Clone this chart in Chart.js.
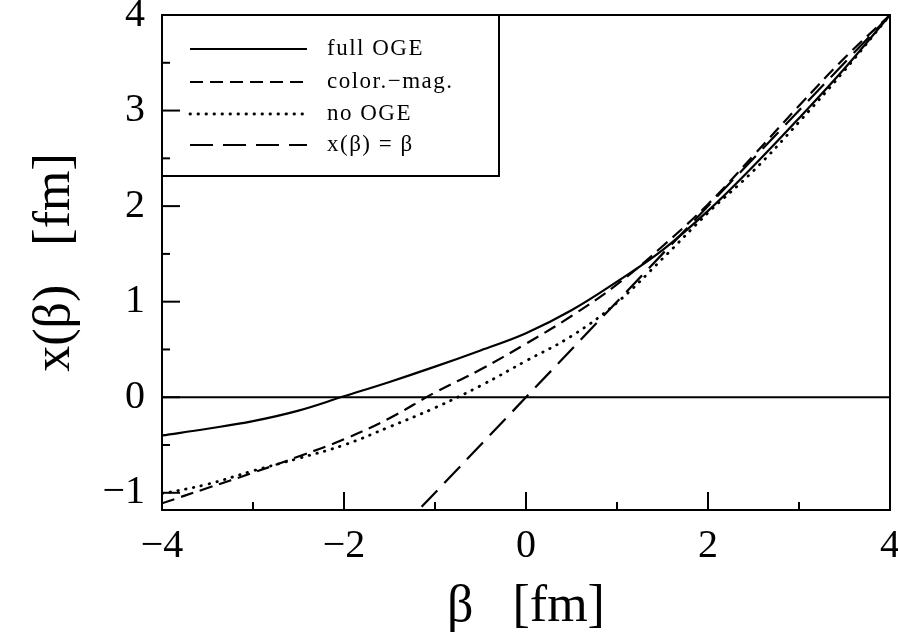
<!DOCTYPE html>
<html>
<head>
<meta charset="utf-8">
<script src="https://cdn.jsdelivr.net/npm/chart.js@4.4.1/dist/chart.umd.min.js"></script>
<style>
  html, body { margin: 0; padding: 0; background: #fff; }
  #wrap { width: 898px; height: 635px; position: relative; }
</style>
</head>
<body>
<div id="wrap"><canvas id="chart"></canvas></div>
<script>
/* x(beta) vs beta for three models plus the identity line. */
const beta = [-4, -3.5, -3, -2.5, -2, -1.5, -1, -0.5, 0, 0.5, 1, 1.5, 2, 2.5, 3, 3.5, 4];
const fullOGE = [-0.40, -0.33, -0.25, -0.14, 0.01, 0.16, 0.32, 0.49, 0.67, 0.91, 1.21, 1.54, 1.95, 2.42, 2.92, 3.44, 4.0];
const colorMag = [-1.11, -0.95, -0.79, -0.62, -0.44, -0.22, 0.05, 0.29, 0.56, 0.85, 1.18, 1.58, 2.02, 2.53, 3.05, 3.55, 4.0];
const noOGE = [-1.01, -0.91, -0.77, -0.64, -0.50, -0.31, -0.11, 0.12, 0.38, 0.64, 0.99, 1.45, 1.93, 2.37, 2.88, 3.42, 4.0];
const identX = [-1.4, 4];
const identY = [-1.4, 4];
const zeroX = [-4, 4];
const zeroY = [0, 0];

const xTicks = [-4, -2, 0, 2, 4];
const xMinor = [-3, -1, 1, 3];
const yTicks = [-1, 0, 1, 2, 3, 4];
const yMinor = [-0.5, 0.5, 1.5, 2.5, 3.5];

const pts = (xs, ys) => xs.map((x, i) => ({ x, y: ys[i] }));
const fmt = (v) => (v < 0 ? "\u2212" + Math.abs(v) : String(v));
const serif = "'Liberation Serif', 'DejaVu Serif', serif";

function line(label, data, dash, opts = {}) {
  return {
    label, data, inLegend: true,
    borderColor: "#000", borderWidth: 2.2, borderDash: dash, borderCapStyle: "butt",
    pointRadius: 0, fill: false, tension: 0.4,
    ...opts,
  };
}

// legend box in the upper left corner, ticks pointing inwards, frame
const decor = {
  id: "decor",
  afterDatasetsDraw(chart) {
    const { ctx, chartArea: a, scales } = chart;
    ctx.save();
    // legend
    const box = { l: a.left, t: a.top, r: 499, b: 176 };
    ctx.fillStyle = "#fff";
    ctx.fillRect(box.l, box.t, box.r - box.l, box.b - box.t);
    ctx.strokeStyle = "#000";
    ctx.lineWidth = 2;
    ctx.strokeRect(box.l, box.t, box.r - box.l, box.b - box.t);
    const rows = [49, 82, 114, 145];
    chart.data.datasets.filter((d) => d.inLegend).forEach((d, i) => {
      const y = rows[i];
      ctx.lineWidth = d.borderWidth;
      ctx.lineCap = d.borderCapStyle;
      ctx.setLineDash(d.borderDash || []);
      ctx.beginPath();
      ctx.moveTo(190, y);
      ctx.lineTo(307, y);
      ctx.stroke();
      ctx.setLineDash([]);
      ctx.lineCap = "butt";
      ctx.fillStyle = "#000";
      ctx.font = "23px " + serif;
      ctx.letterSpacing = "1.5px";
      ctx.textBaseline = "middle";
      ctx.textAlign = "left";
      ctx.fillText(d.label, 327, y);
      ctx.letterSpacing = "0px";
    });
    // ticks
    ctx.lineWidth = 2;
    const tick = (vals, len, axis) => vals.forEach((v) => {
      ctx.beginPath();
      if (axis === "x") {
        const px = scales.x.getPixelForValue(v);
        ctx.moveTo(px, a.bottom);
        ctx.lineTo(px, a.bottom - len);
      } else {
        const py = scales.y.getPixelForValue(v);
        ctx.moveTo(a.left, py);
        ctx.lineTo(a.left + len, py);
      }
      ctx.stroke();
    });
    tick(xTicks, 18, "x");
    tick(xMinor, 8, "x");
    tick(yTicks, 18, "y");
    tick(yMinor, 8, "y");
    // frame
    ctx.strokeRect(a.left, a.top, a.right - a.left, a.bottom - a.top);
    ctx.restore();
  },
};

const fixBox = (size, key) => (scale) => {
  scale[key] = size;
  scale.paddingTop = scale.paddingBottom = scale.paddingLeft = scale.paddingRight = 0;
};

new Chart(document.getElementById("chart"), {
  type: "line",
  data: {
    datasets: [
      line("full OGE", pts(beta, fullOGE), []),
      line("color.\u2212mag.", pts(beta, colorMag), [13, 7]),
      line("no OGE", pts(beta, noOGE), [0.5, 7.5], { borderWidth: 2.8, borderCapStyle: "round" }),
      line("x(\u03b2) = \u03b2", pts(identX, identY), [23, 10]),
      line("zero", pts(zeroX, zeroY), [], { inLegend: false }),
    ],
  },
  options: {
    responsive: true,
    maintainAspectRatio: false,
    animation: false,
    layout: { padding: { left: 0, top: 15, right: 8, bottom: 0 } },
    plugins: { legend: { display: false }, tooltip: { enabled: false } },
    scales: {
      x: {
        type: "linear", min: -4, max: 4,
        grid: { display: false, drawTicks: false },
        border: { display: false },
        afterBuildTicks: (s) => { s.ticks = xTicks.map((value) => ({ value })); },
        afterFit: fixBox(125, "height"),
        ticks: { color: "#000", padding: 12, maxRotation: 0, font: { family: serif, size: 40 }, callback: fmt },
        title: { display: true, text: "\u03b2   [fm]", color: "#000", padding: { top: 0, bottom: -4 }, font: { family: serif, size: 52, lineHeight: 1.2 } },
      },
      y: {
        type: "linear", min: -1.18, max: 4,
        grid: { display: false, drawTicks: false },
        border: { display: false },
        afterBuildTicks: (s) => { s.ticks = yTicks.map((value) => ({ value })); },
        afterFit: fixBox(162, "width"),
        ticks: { color: "#000", padding: 17, font: { family: serif, size: 40 }, callback: fmt },
        title: { display: true, text: "x(\u03b2)   [fm]", color: "#000", padding: { top: 24, bottom: 0 }, font: { family: serif, size: 52, lineHeight: 1.2 } },
      },
    },
  },
  plugins: [decor],
});
</script>
</body>
</html>
